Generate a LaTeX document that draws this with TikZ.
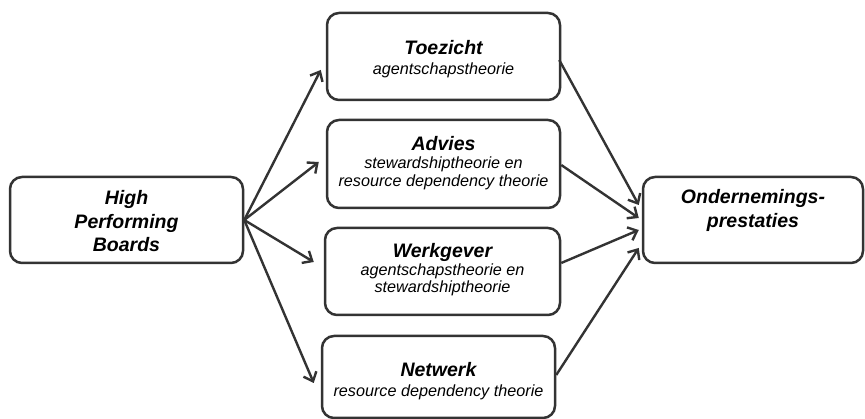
\documentclass[tikz,border=0pt]{standalone}
\usepackage{fontspec}
\setmainfont{Liberation Sans}
\usetikzlibrary{arrows.meta}
\definecolor{ink}{HTML}{333333}
\tikzset{
  box/.style={draw=ink, line width=2.5pt, rounded corners=12pt, fill=white, inner sep=0pt, align=center},
  ttl/.style={font=\fontsize{19.5}{23.5}\selectfont\bfseries\itshape, text=black, align=center, inner sep=0pt},
  sub/.style={font=\fontsize{16.2}{17.5}\selectfont\itshape, text=black, align=center, inner sep=0pt},
  conn/.style={draw=ink, line width=2.4pt, -{Straight Barb[length=8pt,width=14pt,line width=2.4pt]}}
}
\begin{document}
\begin{tikzpicture}[x=1pt,y=-1pt]
\useasboundingbox (0,0) rectangle (865,419);
\fill[white] (0,0) rectangle (865,419);
% boxes
\node[box, minimum width=233pt, minimum height=86pt] (hpb) at (126.5,220) {};
\node[box, minimum width=233pt, minimum height=87pt] (toez) at (443.5,56.5) {};
\node[box, minimum width=233pt, minimum height=88pt] (adv) at (443.5,164) {};
\node[box, minimum width=235pt, minimum height=87pt] (werk) at (442.5,271.5) {};
\node[box, minimum width=233pt, minimum height=82pt] (netw) at (438.5,377) {};
\node[box, minimum width=220pt, minimum height=86pt] (ond) at (753,220) {};
% texts
\node[ttl] (thpb) at (126.5,221.5) {High\\Performing\\Boards};
\node[ttl] (ttoez) at (443.5,48) {Toezicht};
\node[sub] (stoez) at (443.5,70) {agentschapstheorie};
\node[ttl] (tadv) at (443.5,144) {Advies};
\node[sub] (sadv) at (443.5,173.5) {stewardshiptheorie en\\resource dependency theorie};
\node[ttl] (twerk) at (442.5,252) {Werkgever};
\node[sub] (swerk) at (442.5,280) {agentschapstheorie en\\stewardshiptheorie};
\node[ttl] (tnetw) at (438.5,370) {Netwerk};
\node[sub] (snetw) at (438.5,392) {resource dependency theorie};
\node[ttl] (tond) at (753,210.5) {Ondernemings-\\prestaties};
% connectors left
\draw[conn] (hpb.east) -- ([xshift=-5pt,yshift=-13.5pt]toez.west);
\draw[conn] (hpb.east) -- ([xshift=-7pt,yshift=2pt]adv.west);
\draw[conn] (hpb.east) -- ([xshift=-10pt,yshift=9.5pt]werk.west);
\draw[conn] (hpb.east) -- ([xshift=-7pt,yshift=-6pt]netw.west);
% connectors right
\draw[conn] ([xshift=-2pt,yshift=-3.5pt]toez.east) -- ([xshift=-3pt,yshift=15pt]ond.west);
\draw[conn] ([yshift=-1pt]adv.east) -- ([xshift=-3pt,yshift=2pt]ond.west);
\draw[conn] ([yshift=8.5pt]werk.east) -- ([xshift=-3pt,yshift=-10pt]ond.west);
\draw[conn] ([yshift=2pt]netw.east) -- ([xshift=-3pt,yshift=-28pt]ond.west);
\end{tikzpicture}
\end{document}
